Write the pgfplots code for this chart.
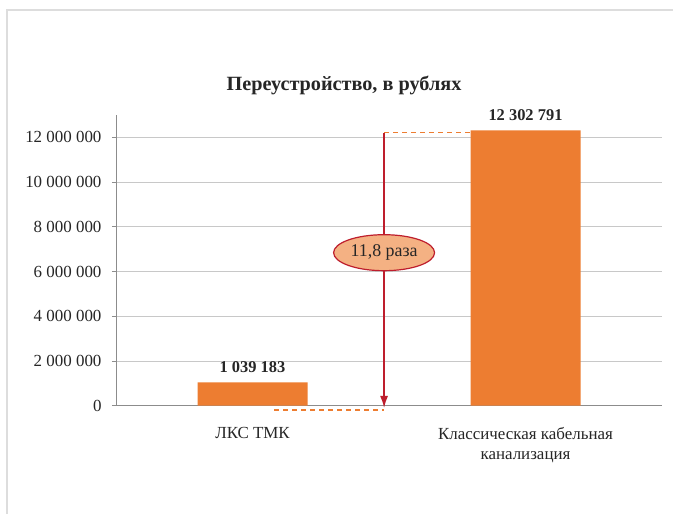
\documentclass[border=0pt]{standalone}
\usepackage{fontspec}
\setmainfont{Liberation Serif}
\usepackage{pgfplots}
\pgfplotsset{compat=1.18}
\usetikzlibrary{shapes.geometric,arrows.meta}

\definecolor{barorange}{HTML}{ED7D31}
\definecolor{ovalfill}{HTML}{F4B183}
\definecolor{darkred}{HTML}{BE1E2D}
\definecolor{gridgray}{HTML}{C8C8C8}
\definecolor{axisgray}{HTML}{8C8C8C}
\definecolor{framegray}{HTML}{DDDDDD}
\definecolor{txt}{HTML}{262626}

\begin{document}
\begin{tikzpicture}
  % page area and outer frame
  \path[use as bounding box] (0,0) rectangle (673bp,514bp);
  \fill[white] (0,0) rectangle (673bp,514bp);
  \draw[framegray, line width=1.5bp] (7bp,0) -- (7bp,504bp) -- (673bp,504bp);

  % title
  \node[text=txt, font=\fontsize{20.3}{23}\selectfont\bfseries] at (344bp,429bp)
    {Переустройство, в рублях};

  \begin{axis}[
    at={(116bp,108.3bp)}, anchor=south west,
    scale only axis,
    width=546bp, height=290.8bp,
    xmin=-0.5, xmax=1.5,
    ymin=0, ymax=13e6,
    clip=false,
    scaled y ticks=false,
    axis x line*=bottom,
    axis y line*=left,
    axis line style={axisgray, line width=0.8bp},
    ytick={0,2e6,4e6,6e6,8e6,10e6,12e6},
    yticklabels={0, 2~000~000, 4~000~000, 6~000~000, 8~000~000, 10~000~000, 12~000~000},
    xtick={0,1},
    xticklabels={ЛКС ТМК, {Классическая кабельная\\канализация}},
    extra x ticks={-0.5,0.5,1.5},
    extra x tick labels={},
    extra x tick style={major tick length=4bp, tick style={axisgray, line width=0.8bp}, grid=none},
    x tick style={draw=none},
    y tick style={axisgray, line width=0.8bp},
    tick align=outside,
    major tick length=4bp,
    ymajorgrids,
    grid style={gridgray, line width=0.9bp},
    ticklabel style={text=txt, font=\fontsize{17}{20}\selectfont},
    xticklabel style={align=center, yshift=-14bp},
    yticklabel style={xshift=-7bp},
    ybar,
    bar width=110bp,
    nodes near coords,
    point meta=explicit symbolic,
    every node near coord/.append style={text=txt, font=\fontsize{16.5}{19}\selectfont\bfseries, yshift=6.5bp},
  ]
    % costs of the two options
    \addplot[fill=barorange, draw=none] coordinates {
      (0,1039183) [1~039~183]
      (1,12302791) [12~302~791]
    };

    % dashed reference levels
    \addplot[sharp plot, nodes near coords={}, barorange, line width=1.2bp, dash pattern=on 5bp off 4bp]
      coordinates {(0.08,-0.19e6) (0.482,-0.19e6)};
    \addplot[sharp plot, nodes near coords={}, barorange, line width=1.2bp, dash pattern=on 5bp off 4bp]
      coordinates {(0.482,12.2e6) (0.8,12.2e6)};

    % ratio arrow
    \addplot[sharp plot, nodes near coords={}, darkred, line width=1.5bp,
      -{Latex[length=12bp,width=8bp]}]
      coordinates {(0.482,12.2e6) (0.482,-0.1e6)};

    \node[ellipse, draw=darkred, fill=ovalfill, line width=1.2bp,
      minimum width=101bp, minimum height=36bp, inner sep=0pt,
      text=txt, font=\fontsize{18}{20}\selectfont]
      at (axis cs:0.482,6.84e6) {11,8 раза};
  \end{axis}
\end{tikzpicture}
\end{document}
